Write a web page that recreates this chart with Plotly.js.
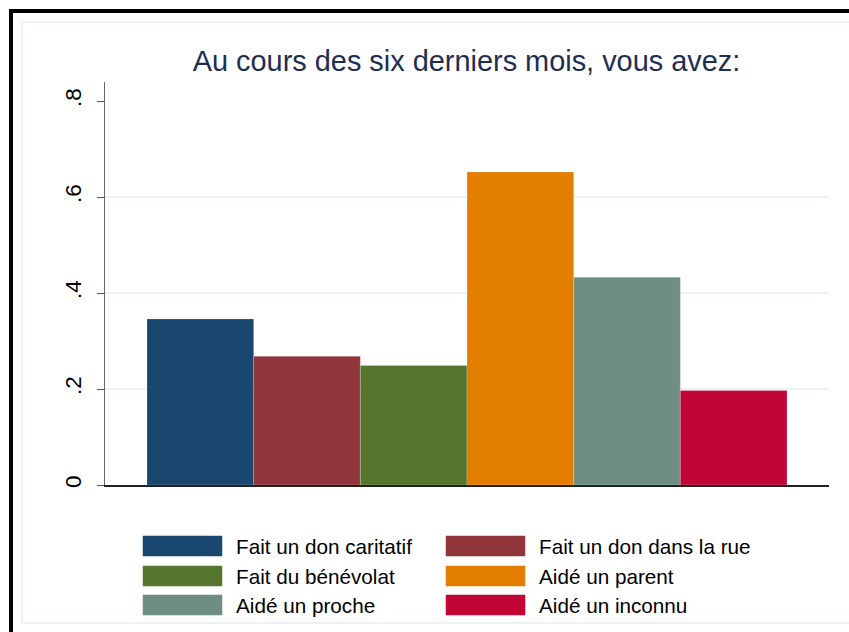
<!DOCTYPE html>
<html>
<head>
<meta charset="utf-8">
<script src="https://cdn.plot.ly/plotly-3.0.1.min.js"></script>
<style>html,body{margin:0;padding:0;background:#fff;}#chart{width:849px;height:632px;}</style>
</head>
<body>
<div id="chart"></div>
<script>
// Data
const categories = ["Fait un don caritatif", "Fait un don dans la rue", "Fait du bénévolat", "Aidé un parent", "Aidé un proche", "Aidé un inconnu"];
const values = [0.346, 0.268, 0.249, 0.652, 0.433, 0.197];
const colors = ["#1a476f", "#90353b", "#55752f", "#e37e00", "#6e8e84", "#c10534"];
const yTickVals = [0, 0.2, 0.4, 0.6, 0.8];
const yTickText = ["0", ".2", ".4", ".6", ".8"];
const gridVals = [0.2, 0.4, 0.6];
const titleText = "Au cours des six derniers mois, vous avez:";

// Layout geometry (pixels)
const W = 849, H = 632;
const M = {l: 105, r: 20, t: 82, b: 147};
const PW = W - M.l - M.r, PH = H - M.t - M.b;
const px = x => (x - M.l) / PW;
const py = y => (H - M.b - y) / PH;

const traces = categories.map((c, i) => ({
  type: 'bar',
  name: c,
  x: [''],
  y: [values[i]],
  marker: {color: colors[i], line: {width: 0.6, color: 'rgba(255,255,255,0.35)'}},
  showlegend: false,
  hoverinfo: 'y+name'
}));
// invisible trace for grid axis
traces.push({type: 'scatter', x: [''], y: [0], yaxis: 'y2', mode: 'markers', marker: {opacity: 0}, showlegend: false, hoverinfo: 'skip'});

const shapes = [];
const annotations = [];

// Frame: black border top/left, light inner border
shapes.push({type: 'line', xref: 'paper', yref: 'paper', x0: px(11), x1: px(W + 5), y0: py(11), y1: py(11), line: {color: '#000', width: 4}, layer: 'above'});
shapes.push({type: 'line', xref: 'paper', yref: 'paper', x0: px(11), x1: px(11), y0: py(9), y1: py(H + 5), line: {color: '#000', width: 4}, layer: 'above'});
shapes.push({type: 'rect', xref: 'paper', yref: 'paper', x0: px(22), x1: px(W + 10), y0: py(22), y1: py(623), line: {color: '#e6eef0', width: 1.5}, layer: 'below'});

// Custom legend (2 columns, 3 rows)
const colSw = [143, 446], swW = 79, swH = 20, textOff = 12;
const rowY = [546, 576, 605];
categories.forEach((c, i) => {
  const col = i % 2, row = Math.floor(i / 2);
  const x0 = colSw[col], yc = rowY[row];
  shapes.push({type: 'rect', xref: 'paper', yref: 'paper', x0: px(x0), x1: px(x0 + swW), y0: py(yc - swH / 2), y1: py(yc + swH / 2), fillcolor: colors[i], line: {color: colors[i], width: 0.5}});
  annotations.push({xref: 'paper', yref: 'paper', x: px(x0 + swW + textOff), y: py(yc), text: c, showarrow: false, xanchor: 'left', yanchor: 'middle', font: {family: 'Liberation Sans, Arial, sans-serif', size: 20.7, color: '#000'}});
});

const layout = {
  width: W, height: H,
  margin: M,
  paper_bgcolor: '#fff', plot_bgcolor: '#fff',
  barmode: 'group', bargap: 0.116, bargroupgap: 0,
  title: {text: titleText, font: {family: 'Liberation Sans, Arial, sans-serif', size: 28.9, color: '#1e2d52'}, x: px(466.5), xanchor: 'center', xref: 'paper', y: 1 - 61 / H, yanchor: 'middle'},
  xaxis: {type: 'category', range: [-0.5, 0.5], showticklabels: false, ticks: '', showgrid: false, zeroline: false, showline: true, linecolor: '#222', linewidth: 1.5, fixedrange: true},
  yaxis: {range: [0, PH / 480], tickvals: yTickVals, ticktext: yTickText, tickangle: -90, ticks: 'outside', ticklen: 7, tickcolor: '#555', tickwidth: 1, ticklabelstandoff: 7, showgrid: false, zeroline: false, showline: true, linecolor: '#666', linewidth: 1, tickfont: {family: 'Liberation Sans, Arial, sans-serif', size: 22.5, color: '#000'}, fixedrange: true},
  yaxis2: {overlaying: 'y', range: [0, PH / 480], tickvals: gridVals, showticklabels: false, ticks: '', showgrid: true, gridcolor: '#eaf2f3', gridwidth: 1.5, zeroline: false, showline: false, fixedrange: true},
  shapes: shapes,
  annotations: annotations,
  showlegend: false
};

Plotly.newPlot('chart', traces, layout, {displayModeBar: false, staticPlot: true});
</script>
</body>
</html>
